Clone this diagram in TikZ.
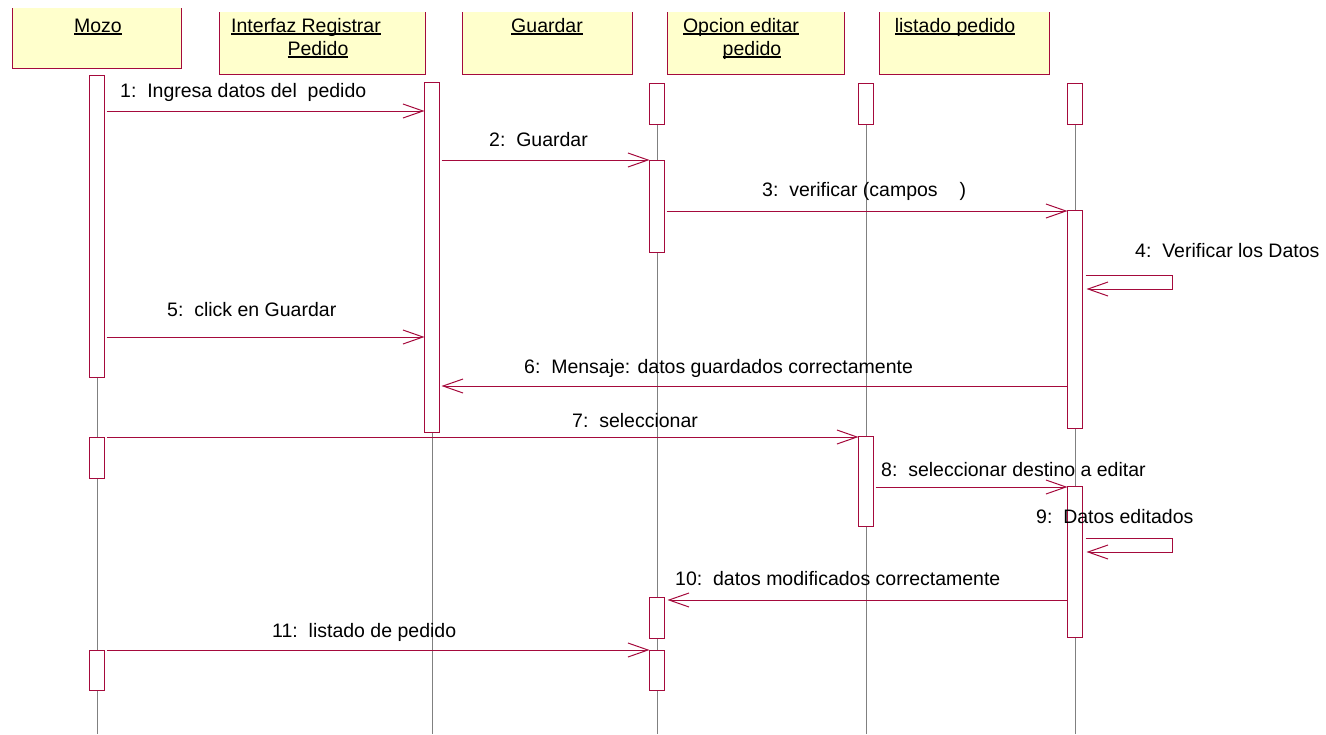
\documentclass[tikz,border=0pt]{standalone}
\usepackage{fontspec}
\setmainfont{Liberation Sans}
\usetikzlibrary{arrows.meta}
\definecolor{umlline}{RGB}{165,10,60}
\definecolor{umlfill}{RGB}{255,255,204}
\definecolor{lifegray}{RGB}{128,128,128}
\pgfdeclarelayer{bg}
\pgfsetlayers{bg,main}
% underlined header text with the rule at a fixed depth
\newcommand\headul[1]{\setbox0\hbox{#1}\rlap{\rule[-2.6pt]{\wd0}{1.3pt}}\box0}
\newcommand\dsp{\ \ }
\tikzset{
  headbox/.style={fill=umlfill, inner sep=0pt, outer sep=0pt, anchor=north west},
  headedge/.style={draw=umlline, line width=1pt},
  headtext/.style={anchor=base, inner sep=0pt, font=\fontsize{19.5}{23}\selectfont},
  lifeline/.style={draw=lifegray, line width=1pt},
  act/.style={draw=umlline, fill=white, line width=1pt, minimum width=15pt,
    inner sep=0pt, outer sep=0pt, anchor=north},
  msg/.style={draw=umlline, line width=1pt, -{Straight Barb[length=20pt,width=14pt]}},
  msglabel/.style={anchor=base west, inner sep=0pt, font=\fontsize{19.5}{23}\selectfont}
}
\begin{document}
\begin{tikzpicture}[x=1pt, y=-1pt]
\useasboundingbox (0,0) rectangle (1326,734);
\coordinate (bottom) at (0,734);

% object headers
\node[headbox, minimum width=169pt, minimum height=60pt] (hMozo) at (12,8) {};
\node[headbox, minimum width=206pt, minimum height=62pt] (hInt) at (219,12) {};
\node[headbox, minimum width=170pt, minimum height=62pt] (hGua) at (462,12) {};
\node[headbox, minimum width=177pt, minimum height=62pt] (hOpc) at (667,12) {};
\node[headbox, minimum width=170pt, minimum height=62pt] (hLis) at (879,12) {};
\foreach \h in {hMozo,hInt,hGua,hOpc,hLis}
  \draw[headedge] (\h.north west) -- (\h.south west) -- (\h.south east) -- (\h.north east);

\node[headtext] (tMozo) at (98,32) {\headul{Mozo}};
\node[headtext] (tInt1) at (306,32) {\headul{Interfaz Registrar}};
\node[headtext] (tInt2) at (318,55) {\headul{Pedido}};
\node[headtext] (tGua) at (547,32) {\headul{Guardar}};
\node[headtext] (tOpc1) at (741,32) {\headul{Opcion editar}};
\node[headtext] (tOpc2) at (752,55) {\headul{pedido}};
\node[headtext] (tLis) at (955,32) {\headul{listado pedido}};

% activations
\node[act, minimum height=302pt] (mozoA) at (97,75) {};
\node[act, minimum height=41pt]  (mozoB) at (97,437) {};
\node[act, minimum height=40pt]  (mozoC) at (97,650) {};
\node[act, minimum height=350pt] (intA)  at (432,82) {};
\node[act, minimum height=41pt]  (guaA)  at (657,83) {};
\node[act, minimum height=92pt]  (guaB)  at (657,160) {};
\node[act, minimum height=41pt]  (guaC)  at (657,597) {};
\node[act, minimum height=40pt]  (guaD)  at (657,650) {};
\node[act, minimum height=41pt]  (opcA)  at (866,83) {};
\node[act, minimum height=90pt]  (opcB)  at (866,436) {};
\node[act, minimum height=41pt]  (lisA)  at (1075,83) {};
\node[act, minimum height=218pt] (lisB)  at (1075,210) {};
\node[act, minimum height=151pt] (lisC)  at (1075,486) {};

% lifelines behind the activations
\begin{pgfonlayer}{bg}
  \foreach \a in {mozoA,intA,guaA,opcA,lisA}
    \draw[lifeline] (\a.north) -- (\a.north |- bottom);
\end{pgfonlayer}

% messages
\draw[msg, shorten <=2pt] (mozoA.east |- 0,111) -- (intA.west |- 0,111);
\draw[msg, shorten <=2pt] (intA.east |- 0,160) -- (guaB.west |- 0,160);
\draw[msg, shorten <=2pt] (guaB.east |- 0,211) -- (lisB.west |- 0,211);
\draw[msg] (lisB.east |- 0,275) ++(3,0) -- ++(87,0) -- ++(0,14) -- ++(-86,0);
\draw[msg, shorten <=2pt] (mozoA.east |- 0,337) -- (intA.west |- 0,337);
\draw[msg, shorten >=2pt] (lisB.west |- 0,386) -- (intA.east |- 0,386);
\draw[msg, shorten <=2pt] (mozoB.east |- 0,437) -- (opcB.west |- 0,437);
\draw[msg, shorten <=2pt] (opcB.east |- 0,487) -- (lisC.west |- 0,487);
\draw[msg] (lisC.east |- 0,538) ++(3,0) -- ++(87,0) -- ++(0,14) -- ++(-86,0);
\draw[msg, shorten >=3pt] (lisC.west |- 0,600) -- (guaC.east |- 0,600);
\draw[msg, shorten <=2pt] (mozoC.east |- 0,650) -- (guaD.west |- 0,650);

% message labels
\node[msglabel] (l1)  at (120,97)  {1:\dsp Ingresa datos del\dsp pedido};
\node[msglabel] (l2)  at (489,146) {2:\dsp Guardar};
\node[msglabel] (l3)  at (762,196) {3:\dsp verificar (campos\hspace{22pt})};
\node[msglabel] (l4)  at (1135,257) {4:\dsp Verificar los Datos};
\node[msglabel] (l5)  at (167,316) {5:\dsp click en Guardar};
\node[msglabel] (l6)  at (524,373) {6:\dsp Mensaje: datos guardados correctamente};
\node[msglabel] (l7)  at (572,427) {7:\dsp seleccionar};
\node[msglabel] (l8)  at (881,476) {8:\dsp seleccionar destino a editar};
\node[msglabel] (l9)  at (1036,523) {9:\dsp Datos editados};
\node[msglabel] (l10) at (675,585) {10:\dsp datos modificados correctamente};
\node[msglabel] (l11) at (272,637) {11:\dsp listado de pedido};
\end{tikzpicture}
\end{document}
